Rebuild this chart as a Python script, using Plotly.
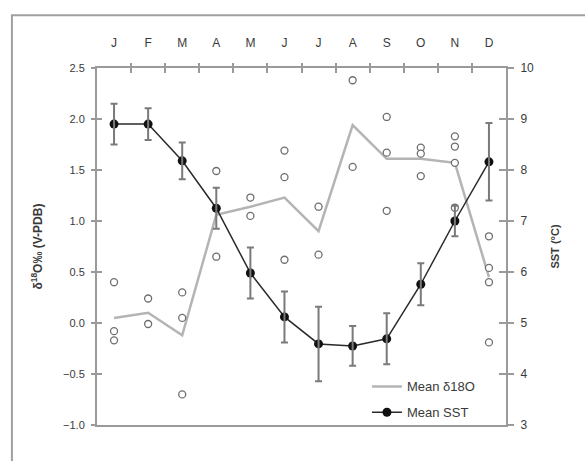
import plotly.graph_objects as go

# Month labels and positions
months = ["J", "F", "M", "A", "M", "J", "J", "A", "S", "O", "N", "D"]
month_pos = list(range(1, 13))

# Monthly mean sea-surface temperature (°C) and its error
sst_mean = [8.90, 8.90, 8.18, 7.25, 5.98, 5.12, 4.59, 4.55, 4.69, 5.76, 7.00, 8.16]
sst_err = [0.40, 0.31, 0.36, 0.40, 0.50, 0.50, 0.73, 0.39, 0.50, 0.41, 0.30, 0.76]

# Monthly mean δ18O (‰ V-PDB)
d18o_mean = [0.05, 0.10, -0.12, 1.06, 1.14, 1.23, 0.90, 1.94, 1.61, 1.61, 1.57, 0.45]

# Individual δ18O measurements: month index and value
d18o_month = [1, 1, 1,
              2, 2,
              3, 3, 3,
              4, 4,
              5, 5,
              6, 6, 6,
              7, 7,
              8, 8,
              9, 9, 9,
              10, 10, 10,
              11, 11, 11, 11,
              12, 12, 12, 12]
d18o_value = [0.40, -0.08, -0.17,
              0.24, -0.01,
              0.30, 0.05, -0.70,
              1.49, 0.65,
              1.23, 1.05,
              1.69, 1.43, 0.62,
              1.14, 0.67,
              2.38, 1.53,
              2.02, 1.67, 1.10,
              1.72, 1.66, 1.44,
              1.83, 1.73, 1.57, 1.13,
              0.85, 0.54, 0.40, -0.19]

left_ticks = [-1.0, -0.5, 0.0, 0.5, 1.0, 1.5, 2.0, 2.5]
right_ticks = [3, 4, 5, 6, 7, 8, 9, 10]
month_edges = [m + 0.5 for m in month_pos[:-1]]

AXIS = "#9a9a9a"
TXT = "#3a3a3a"
FONT = "Liberation Sans, Arial, sans-serif"

fig = go.Figure()

# individual measurements (drawn on the overlay pair x3/y3, same scales as x/y)
fig.add_trace(go.Scatter(
    x=d18o_month, y=d18o_value, mode="markers", showlegend=False,
    marker=dict(symbol="circle", size=7, color="white",
                line=dict(color="#6e6e6e", width=1.3)),
    xaxis="x3", yaxis="y3", cliponaxis=False, hoverinfo="skip",
))

fig.add_trace(go.Scatter(
    x=month_pos, y=d18o_mean, mode="lines", name="Mean δ18O",
    line=dict(color="#b4b4b4", width=2.5),
    xaxis="x", yaxis="y", legendgroup="a",
))

# SST error bars (on the overlay pair x4/y4, same scales as x/y2)
fig.add_trace(go.Scatter(
    x=month_pos, y=sst_mean, mode="markers", showlegend=False,
    marker=dict(size=2, opacity=0),
    error_y=dict(type="data", array=sst_err, color="#7a7a7a",
                 thickness=2, width=3.5),
    xaxis="x4", yaxis="y4", hoverinfo="skip",
))

fig.add_trace(go.Scatter(
    x=month_pos, y=sst_mean, mode="lines+markers", name="Mean SST",
    line=dict(color="#2a2a2a", width=1.5),
    marker=dict(color="#111111", size=9),
    xaxis="x", yaxis="y2", legendgroup="b",
))

common_x = dict(range=[0.5, 12.5], showgrid=False, zeroline=False, automargin=False)
tick_only = dict(showticklabels=False, showline=False, showgrid=False,
                 zeroline=False, automargin=False, tickwidth=2, tickcolor=AXIS,
                 tickmode="array")

fig.update_layout(
    width=585, height=461,
    margin=dict(l=97, r=79, t=68, b=36),
    paper_bgcolor="white", plot_bgcolor="white",
    font=dict(family=FONT, size=11, color=TXT),
    xaxis=dict(
        **common_x, side="top", tickmode="array", tickvals=month_pos,
        ticktext=months, ticks="", showline=True, linecolor=AXIS,
        linewidth=2, mirror=True, ticklabelstandoff=14,
        tickfont=dict(size=12, color=TXT),
    ),
    xaxis3=dict(
        range=[0.5, 12.5], overlaying="x", anchor="y3", side="top",
        tickvals=month_edges, ticks="outside", ticklen=4, **tick_only,
    ),
    xaxis4=dict(
        range=[0.5, 12.5], overlaying="x", anchor="y4", side="top",
        tickvals=month_edges, ticks="inside", ticklen=5, **tick_only,
    ),
    yaxis=dict(
        range=[-1.0, 2.5], tickmode="array", tickvals=left_ticks,
        tickformat=".1f", ticks="outside", ticklen=4, tickwidth=2,
        tickcolor=AXIS, showline=True, linecolor=AXIS, linewidth=2,
        showgrid=False, zeroline=False, automargin=False,
        ticklabelstandoff=4, tickfont=dict(size=11, color=TXT),
        title=dict(text="<b>δ<sup>18</sup>O‰ (V-PDB)</b>",
                   font=dict(size=12, color=TXT), standoff=18),
    ),
    yaxis3=dict(
        range=[-1.0, 2.5], overlaying="y", anchor="x3", side="left",
        tickvals=left_ticks, ticks="inside", ticklen=5, **tick_only,
    ),
    yaxis2=dict(
        range=[3, 10], overlaying="y", side="right", tickmode="array",
        tickvals=right_ticks, ticks="outside", ticklen=6, tickwidth=2,
        tickcolor=AXIS, showline=True, linecolor=AXIS, linewidth=2,
        showgrid=False, zeroline=False, automargin=False,
        ticklabelstandoff=4, tickfont=dict(size=12, color=TXT),
        title=dict(text="<b>SST (°C)</b>", font=dict(size=11, color=TXT),
                   standoff=18),
    ),
    yaxis4=dict(
        range=[3, 10], overlaying="y", anchor="x4", side="right",
        tickvals=right_ticks, ticks="inside", ticklen=7, **tick_only,
    ),
    legend=dict(
        x=0.66, y=0.15, xanchor="left", yanchor="top",
        bgcolor="rgba(0,0,0,0)", traceorder="grouped", tracegroupgap=6,
        font=dict(size=13, color=TXT), itemwidth=30,
    ),
    shapes=[dict(
        type="rect", xref="paper", yref="paper",
        x0=-0.208, x1=1.2, y0=-0.15, y1=1.148,
        line=dict(color="#a0a0a0", width=2), layer="below",
    )],
)

fig.write_html("out.html")
